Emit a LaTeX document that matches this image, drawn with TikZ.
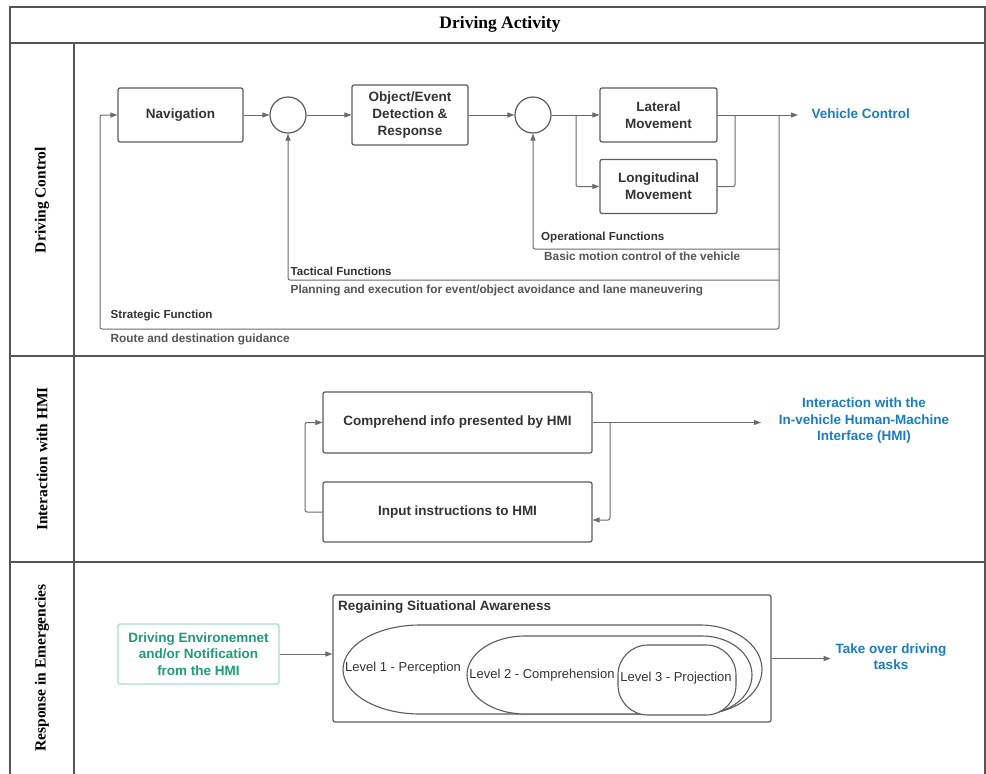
\documentclass[tikz,border=0pt]{standalone}
\usepackage{fontspec}
\setmainfont{Liberation Sans}
\newfontfamily\lanefont{Liberation Serif}
\usetikzlibrary{arrows.meta,calc}
\definecolor{linec}{HTML}{6A6A6A}
\definecolor{boxc}{HTML}{5C5C5C}
\definecolor{txt}{HTML}{333333}
\definecolor{blueA}{HTML}{1B7DC0}
\definecolor{greenA}{HTML}{1F9C77}
\definecolor{greenB}{HTML}{A8DDCF}
\definecolor{grayA}{HTML}{555555}
\definecolor{laneC}{HTML}{555555}
\begin{document}
\begin{tikzpicture}[x=1pt,y=-1pt,
  box/.style={draw=boxc, line width=1.2pt, rounded corners=2pt, align=center,
    font=\fontsize{13.5}{17}\selectfont\bfseries, text=txt, inner sep=0pt},
  circ/.style={draw=boxc, line width=1.2pt, circle, minimum size=36pt, inner sep=0pt},
  conn/.style={draw=linec, line width=1pt, rounded corners=2pt},
  arr/.style={conn, -{Triangle[length=7pt,width=5pt]}},
  laneline/.style={draw=laneC, line width=1.6pt},
  lanelabel/.style={rotate=90, font=\lanefont\fontsize{15.5}{18}\selectfont\bfseries, text=black},
  bluet/.style={text=blueA, align=center, font=\fontsize{13.5}{16.5}\selectfont\bfseries},
  fname/.style={anchor=west, text=txt, font=\fontsize{11.6}{13}\selectfont\bfseries, inner sep=0pt},
  fdesc/.style={anchor=west, text=grayA, font=\fontsize{11.8}{13}\selectfont\bfseries, inner sep=0pt},
  level/.style={draw=boxc, line width=1.1pt, fill=white},
  leveltext/.style={text=txt, font=\fontsize{13}{15}\selectfont, inner sep=0pt}
]
\useasboundingbox (0,0) rectangle (986,774);
\fill[white] (0,0) rectangle (986,774);

% frame and swimlanes
\draw[laneline] (10,780) -- (10,7) -- (985,7) -- (985,780);
\draw[laneline] (10,43) -- (986,43);
\draw[laneline] (10,356) -- (986,356);
\draw[laneline] (10,562) -- (986,562);
\draw[laneline] (74,43) -- (74,780);
\node[font=\lanefont\fontsize{17.5}{20}\selectfont\bfseries] (title) at (500,24) {Driving Activity};
\node[lanelabel] (l1) at (42,200) {Driving Control};
\node[lanelabel] (l2) at (42,459) {Interaction with HMI};
\node[lanelabel] (l3) at (42,668) {Response in Emergencies};

% ---------------- Driving control
\node[box, minimum width=125pt, minimum height=54pt] (nav) at (180.5,115) {Navigation};
\node[circ] (c1) at (288,115) {};
\node[box, minimum width=116pt, minimum height=60pt] (obj) at (410,115) {Object/Event\\Detection \&\\Response};
\node[circ] (c2) at (533,115) {};
\node[box, minimum width=117pt, minimum height=54pt] (lat) at (658.5,115) {Lateral\\Movement};
\node[box, minimum width=117pt, minimum height=54pt] (lon) at (658.5,186.5) {Longitudinal\\Movement};
\node[bluet, anchor=west] (vc) at (808,113.5) {Vehicle Control};

\coordinate (split) at (576,115);
\coordinate (out) at (798,115);
\coordinate (join) at (735,115);
\coordinate (fb) at (779,115);
\coordinate (sL) at (100,329);
\coordinate (op) at (779,249);
\coordinate (tac) at (779,280);

\draw[arr] (nav.east) -- (c1.west);
\draw[arr] (c1.east) -- (obj.west);
\draw[arr] (obj.east) -- (c2.west);
\draw[arr] (c2.east) -- (lat.west);
\draw[arr] (split) |- (lon.west);
\draw[arr] (lat.east) -- (out);
\draw[conn] (lon.east) -| (join);
\draw[arr] (fb) |- (sL) |- (nav.west);
\draw[arr] (op) -| (c2.south);
\draw[arr] (tac) -| (c1.south);

\node[fname] (opn) at (541,237) {Operational Functions};
\node[fdesc] (opd) at (544,256.5) {Basic motion control of the vehicle};
\node[fname] (tcn) at (290.5,271) {Tactical Functions};
\node[fdesc] (tcd) at (290.5,290) {Planning and execution for event/object avoidance and lane maneuvering};
\node[fname] (stn) at (110.5,316) {Strategic Function};
\node[fdesc] (std) at (110.5,339.5) {Route and destination guidance};

% ---------------- Interaction with HMI
\node[box, minimum width=269pt, minimum height=61pt] (comp) at (457.5,422.5) {Comprehend info presented by HMI};
\node[box, minimum width=269pt, minimum height=60pt] (inp) at (457.5,512) {Input instructions to HMI};
\coordinate (hout) at (761,422.5);
\coordinate (hj) at (610,422.5);
\coordinate (hl) at (305,512);
\draw[arr] (comp.east) -- (hout);
\draw[arr] (hj) |- ($(inp.east)+(0,8)$);
\draw[arr] (inp.west) -- (hl) |- (comp.west);
\node[bluet] (hmi) at (864,421) {Interaction with the\\In-vehicle Human-Machine\\Interface (HMI)};

% ---------------- Response in emergencies
\node[draw=greenB, line width=1.2pt, rounded corners=2pt, minimum width=161pt, minimum height=60pt,
  text=greenA, align=center, inner sep=0pt, font=\fontsize{13.5}{16.5}\selectfont\bfseries] (env) at (198.5,654) {Driving Environemnet\\and/or Notification\\from the HMI};
\node[draw=boxc, line width=1.2pt, rounded corners=2pt, minimum width=438pt, minimum height=127pt] (rsa) at (552,658.5) {};
\node[anchor=west, text=txt, inner sep=0pt, font=\fontsize{13.5}{16}\selectfont\bfseries] (rsat) at (338,607) {Regaining Situational Awareness};
\draw[arr] (env.east) -- (env.east -| rsa.west);

\draw[level] (420,625) -- (700,625) arc[start angle=-90,end angle=90,x radius=62,y radius=44.5]
  -- (420,714) arc[start angle=90,end angle=270,x radius=77,y radius=44.5] -- cycle;
\draw[level] (525,636) -- (702,636) arc[start angle=-90,end angle=90,x radius=50,y radius=39]
  -- (525,714) arc[start angle=90,end angle=270,x radius=58,y radius=39] -- cycle;
\draw[level, rounded corners=30pt] (618,645) rectangle (736,715);

\node[leveltext] (lv1) at (403,668) {Level 1 - Perception};
\node[leveltext] (lv2) at (542,675) {Level 2 - Comprehension};
\node[leveltext] (lv3) at (676,678) {Level 3 - Projection};

\draw[arr] (rsa.east) -- ($(rsa.east)+(59,0)$) coordinate (tko);
\node[bluet] (take) at (891,656.5) {Take over driving\\tasks};
\end{tikzpicture}
\end{document}
